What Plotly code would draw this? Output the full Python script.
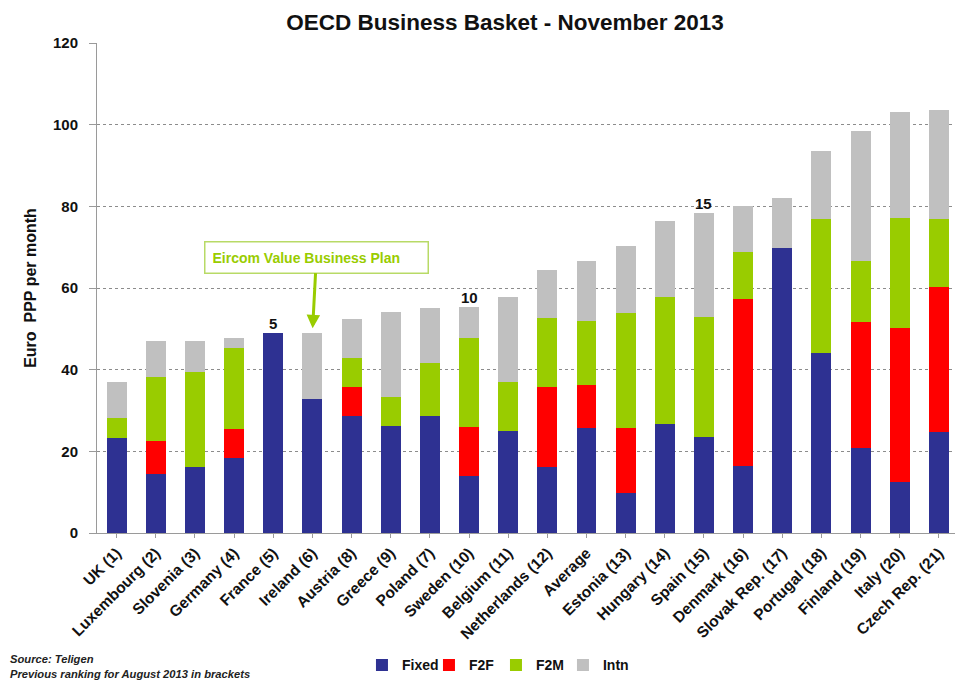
import plotly.graph_objects as go

# Monthly business basket cost (Euro PPP) by component
countries = [
    "UK (1)", "Luxembourg (2)", "Slovenia (3)", "Germany (4)", "France (5)",
    "Ireland (6)", "Austria (8)", "Greece (9)", "Poland (7)", "Sweden (10)",
    "Belgium (11)", "Netherlands (12)", "Average", "Estonia (13)", "Hungary (14)",
    "Spain (15)", "Denmark (16)", "Slovak Rep. (17)", "Portugal (18)",
    "Finland (19)", "Italy (20)", "Czech Rep. (21)",
]
fixed = [23.2, 14.4, 16.2, 18.4, 48.9, 32.7, 28.7, 26.3, 28.7, 14.0, 25.1,
         16.1, 25.8, 9.7, 26.7, 23.6, 16.4, 69.9, 44.0, 20.7, 12.4, 24.7]
f2f = [0, 8.1, 0, 7.1, 0, 0, 7.0, 0, 0, 12.0, 0,
       19.7, 10.4, 15.9, 0, 0, 40.9, 0, 0, 30.9, 37.9, 35.6]
f2m = [4.9, 15.8, 23.3, 19.9, 0, 0, 7.1, 7.1, 13.0, 21.7, 12.0,
       16.9, 15.6, 28.4, 31.0, 29.4, 11.4, 0, 32.8, 15.1, 26.9, 16.5]
intn = [9.0, 8.6, 7.6, 2.3, 0, 16.2, 9.5, 20.8, 13.5, 7.7, 20.8,
        11.7, 14.8, 16.4, 18.8, 25.3, 11.5, 12.1, 16.8, 31.8, 25.8, 26.8]

# Rank markers shown above selected bars
rank_marks = {"France (5)": "5", "Sweden (10)": "10", "Spain (15)": "15"}
highlight = "Ireland (6)"
highlight_text = "Eircom Value Business Plan"

series = [
    ("Fixed", fixed, "#2E3192"),
    ("F2F", f2f, "#FF0000"),
    ("F2M", f2m, "#99CC00"),
    ("Intn", intn, "#C0C0C0"),
]

font_main = "Liberation Sans, Arial, sans-serif"

fig = go.Figure()
for name, vals, col in series:
    fig.add_trace(go.Bar(
        x=countries, y=vals, name="<b>%s</b>" % name,
        marker=dict(color=col, line=dict(width=0)),
    ))

totals = [a + b + c + d for a, b, c, d in zip(fixed, f2f, f2m, intn)]

annotations = []
for cat, txt in rank_marks.items():
    i = countries.index(cat)
    annotations.append(dict(
        x=cat, y=totals[i], xref="x", yref="y", text="<b>%s</b>" % txt,
        showarrow=False, yanchor="bottom", yshift=-1,
        font=dict(size=15, color="#111", family=font_main),
    ))

hi = countries.index(highlight)
annotations.append(dict(
    x=highlight, y=totals[hi], xref="x", yref="y",
    text="<b>%s</b>" % highlight_text,
    showarrow=True, arrowhead=2, arrowsize=0.9, arrowwidth=3,
    arrowcolor="#99CC00", ax=4, ay=-76, standoff=5,
    width=208, align="left",
    bordercolor="#B8DA66", borderwidth=1.5, borderpad=7, bgcolor="white",
    font=dict(size=14, color="#99CC00", family=font_main),
))

annotations.append(dict(
    xref="paper", yref="paper", x=-0.104, y=-0.24, xanchor="left", yanchor="top",
    align="left", showarrow=False,
    text="<b><i>Source: Teligen<br>Previous ranking for August 2013 in brackets</i></b>",
    font=dict(size=11.2, color="#222", family=font_main),
))

fig.update_layout(
    barmode="stack",
    bargap=0.49,
    width=955, height=683,
    margin=dict(l=97, r=0, t=43, b=150),
    paper_bgcolor="white", plot_bgcolor="white",
    title=dict(
        text="<b>OECD Business Basket - November 2013</b>",
        x=505 / 955, xanchor="center", y=1 - 22 / 683, yanchor="middle",
        font=dict(size=22.5, color="#111", family=font_main),
    ),
    font=dict(family=font_main, color="#111"),
    legend=dict(
        orientation="h", x=0.465, xanchor="center", y=-0.27, yanchor="middle",
        font=dict(size=14, color="#111", family=font_main),
        itemwidth=30, traceorder="normal", entrywidth=22,
    ),
    annotations=annotations,
    showlegend=True,
)

fig.update_xaxes(
    range=[-0.5, 21.41],
    tickangle=-45,
    tickfont=dict(size=15.5, color="#111", family=font_main),
    showline=True, linecolor="#9A9A9A", linewidth=1,
    ticks="outside", ticklen=4, tickcolor="#9A9A9A",
    showgrid=False,
    tickprefix="<b>", ticksuffix="</b>",
)
fig.update_yaxes(
    range=[0, 120], dtick=20,
    tickfont=dict(size=15, color="#111", family=font_main),
    tickprefix="<b>", ticksuffix="</b>",
    showline=True, linecolor="#9A9A9A", linewidth=1,
    ticks="outside", ticklen=7, tickcolor="#9A9A9A",
    ticklabelstandoff=8,
    showgrid=True, gridcolor="#8C8C8C", gridwidth=1, griddash="dot",
    zeroline=False,
    title=dict(text="<b>Euro  PPP per month</b>", standoff=12,
               font=dict(size=16, color="#111", family=font_main)),
)

fig.write_html("out.html")
